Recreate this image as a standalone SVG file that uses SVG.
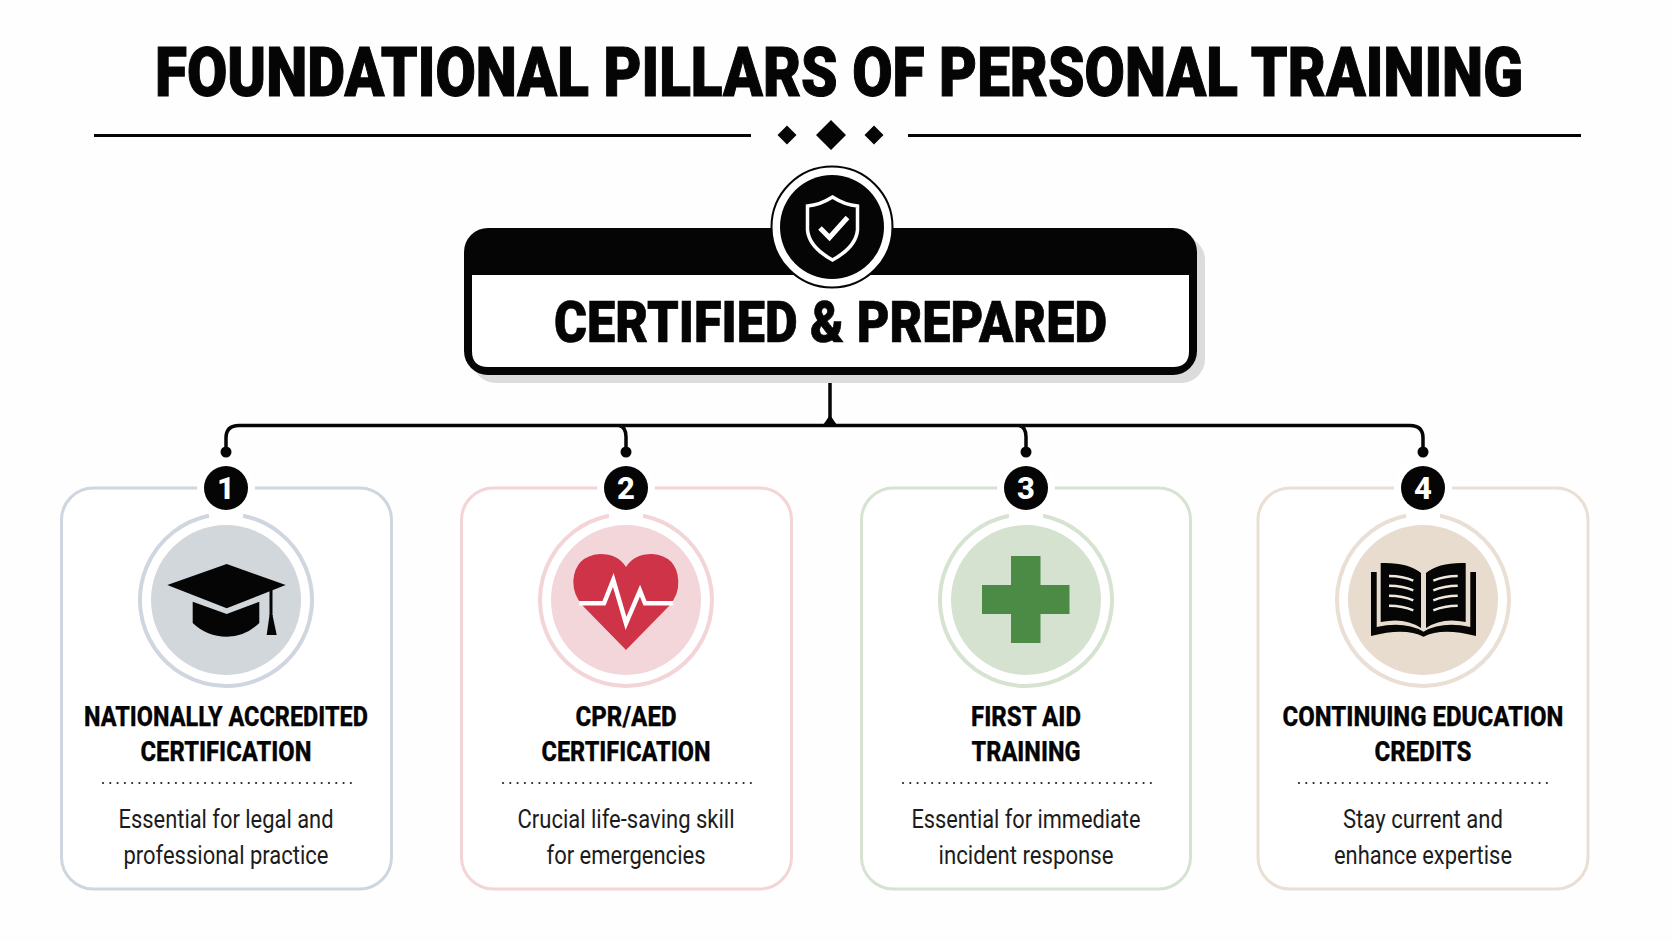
<svg xmlns="http://www.w3.org/2000/svg" width="1672" height="941" viewBox="0 0 1672 941">
<style>
text{font-family:Roboto,"Liberation Sans",sans-serif;text-anchor:middle;fill:#050505}
.title{font-size:55.2px;font-weight:900;stroke:#050505;stroke-width:.9}
.hero{font-size:58px;font-weight:900;stroke:#050505;stroke-width:.7}
.head{font-size:28px;font-weight:800;stroke:#050505;stroke-width:.25}
.desc{font-size:26px;font-weight:400;fill:#1c1c1c}
.num{font-size:31px;font-weight:800;fill:#fff}
.card{fill:#fff;stroke-width:3}
.ring{fill:none;stroke-width:4}
.halo{fill:#fff}
.badge{fill:#050505}
.dots{fill:none;stroke:#222;stroke-width:2.2;stroke-linecap:round;stroke-dasharray:0 7.29}
.conn{fill:none;stroke:#050505;stroke-width:3.5}
</style>
<rect width="1672" height="941" fill="#fefefe"/>
<g id="title">
<text class="title" transform="translate(839 95.500) scale(1 1.25)" x="0" y="0" textLength="1368" lengthAdjust="spacingAndGlyphs">FOUNDATIONAL PILLARS OF PERSONAL TRAINING</text>
<path d="M94 135.500H751M908 135.500H1581" stroke="#050505" stroke-width="3" fill="none"/>
<path d="M787 125.500l9.500 9.500-9.500 9.500-9.500-9.500zM831 120l15 15-15 15-15-15zM874 125.500l9.500 9.500-9.500 9.500-9.500-9.500z" fill="#050505"/>
</g>
<g id="connectors">
<path class="conn" d="M830 375V426M226 452V438Q226 425.500 239 425.500H1410Q1423 425.500 1423 438V452M619 425.500Q626 427 626 437V452M1019 425.500Q1026 427 1026 437V452"/>
<path d="M823 425L830 415L837 425Z" fill="#050505"/>
<g fill="#050505"><circle cx="226" cy="452" r="5.500"/><circle cx="626" cy="452" r="5.500"/><circle cx="1026" cy="452" r="5.500"/><circle cx="1423" cy="452" r="5.500"/></g>
</g>
<g id="root">
<rect x="472" y="236" width="733" height="147" rx="24" fill="#dcdcdc"/>
<rect x="464" y="228" width="733" height="147" rx="24" fill="#050505"/>
<path d="M472 275H1189V351Q1189 367 1173 367H488Q472 367 472 351Z" fill="#fff"/>
<text class="hero" x="830.500" y="342" textLength="553" lengthAdjust="spacingAndGlyphs">CERTIFIED &amp; PREPARED</text>
<circle cx="832" cy="227" r="60.500" fill="#fff" stroke="#050505" stroke-width="2"/>
<circle cx="832" cy="227" r="52" fill="#050505"/>
<path d="M832.500 197Q820 205 807.500 206V230Q809 247 832.500 260Q856 247 857.500 230V206Q845 205 832.500 197Z" fill="none" stroke="#fff" stroke-width="3.500"/>
<path d="M820 228L829.500 237.500L847.500 217.500" fill="none" stroke="#fff" stroke-width="5"/>
</g>
<g id="card1">
<rect class="card" x="61.500" y="488" width="330" height="401" rx="32" stroke="#cfd6df"/>
<path class="ring" d="M243 515.700A86 86 0 1 1 209 515.700" stroke="#cfd6df"/>
<circle cx="226" cy="600" r="75" fill="#d2d7dc"/>
<circle class="halo" cx="226" cy="488" r="29"/><circle class="badge" cx="226" cy="488" r="22"/>
<text class="num" x="226" y="499">1</text>
<path d="M167.300 585L226.700 564L285.700 585L226.700 608.300Z" fill="#050505"/>
<path d="M192.700 601.700L226.700 614L259.300 601.700V623Q245 636.700 226.700 636.700Q207 636.700 192.700 623Z" fill="#050505"/>
<path d="M271 590V616" stroke="#050505" stroke-width="3" fill="none"/>
<path d="M269.500 615H272.500L276.700 635H266.700Z" fill="#050505"/>
<text class="head" x="226" y="726" textLength="284" lengthAdjust="spacingAndGlyphs">NATIONALLY ACCREDITED</text>
<text class="head" x="226" y="761" textLength="171" lengthAdjust="spacingAndGlyphs">CERTIFICATION</text>
<path class="dots" d="M103 783H351.500"/>
<text class="desc" x="226" y="828" textLength="215" lengthAdjust="spacingAndGlyphs">Essential for legal and</text>
<text class="desc" x="226" y="864" textLength="205" lengthAdjust="spacingAndGlyphs">professional practice</text>
</g>
<g id="card2">
<rect class="card" x="461.500" y="488" width="330" height="401" rx="32" stroke="#f3d4d7"/>
<path class="ring" d="M643 515.700A86 86 0 1 1 609 515.700" stroke="#f3d4d7"/>
<circle cx="626" cy="600" r="75" fill="#f2d6d9"/>
<circle class="halo" cx="626" cy="488" r="29"/><circle class="badge" cx="626" cy="488" r="22"/>
<text class="num" x="626" y="499">2</text>
<path d="M626 650L583 606Q573 595 573.300 581Q575 556 600 554Q618 554 626 567Q634 554 652 554Q677 556 678.300 581Q679 595 669 606Z" fill="#cf3347"/>
<path d="M579.300 603.300H604L613.300 580L626 623.300L640 590.700L645 603.300H673.300" fill="none" stroke="#fff" stroke-width="4.500"/>
<text class="head" x="626" y="726" textLength="101" lengthAdjust="spacingAndGlyphs">CPR/AED</text>
<text class="head" x="626" y="761" textLength="169" lengthAdjust="spacingAndGlyphs">CERTIFICATION</text>
<path class="dots" d="M503 783H751.500"/>
<text class="desc" x="626" y="828" textLength="217" lengthAdjust="spacingAndGlyphs">Crucial life-saving skill</text>
<text class="desc" x="626" y="864" textLength="159" lengthAdjust="spacingAndGlyphs">for emergencies</text>
</g>
<g id="card3">
<rect class="card" x="861.500" y="488" width="329" height="401" rx="32" stroke="#d6e3d1"/>
<path class="ring" d="M1043 515.700A86 86 0 1 1 1009 515.700" stroke="#d6e3d1"/>
<circle cx="1026" cy="600" r="75" fill="#d4e2cf"/>
<circle class="halo" cx="1026" cy="488" r="29"/><circle class="badge" cx="1026" cy="488" r="22"/>
<text class="num" x="1026" y="499">3</text>
<path d="M1011 556H1040.500V585H1069.500V614H1040.500V643H1011V614H982V585H1011Z" fill="#4b8b46"/>
<text class="head" x="1026" y="726" textLength="110" lengthAdjust="spacingAndGlyphs">FIRST AID</text>
<text class="head" x="1026" y="761" textLength="109" lengthAdjust="spacingAndGlyphs">TRAINING</text>
<path class="dots" d="M903 783H1151.500"/>
<text class="desc" x="1026" y="828" textLength="229" lengthAdjust="spacingAndGlyphs">Essential for immediate</text>
<text class="desc" x="1026" y="864" textLength="175" lengthAdjust="spacingAndGlyphs">incident response</text>
</g>
<g id="card4">
<rect class="card" x="1258" y="488" width="330" height="401" rx="32" stroke="#e9dfd5"/>
<path class="ring" d="M1440 515.700A86 86 0 1 1 1406 515.700" stroke="#e9dfd5"/>
<circle cx="1423" cy="600" r="75" fill="#e8dccf"/>
<circle class="halo" cx="1423" cy="488" r="29"/><circle class="badge" cx="1423" cy="488" r="22"/>
<text class="num" x="1423" y="499">4</text>
<path d="M1371 572H1376.700V627Q1405 621 1423.500 631.700Q1442 621 1470.300 627V572H1476V636Q1442 627 1423.500 636.700Q1405 627 1371 636Z" fill="#050505"/>
<path d="M1380.700 563Q1408 562 1421 573V628Q1405 617 1380.700 622ZM1465.700 563Q1439 562 1426 573V628Q1442 617 1465.700 622Z" fill="#050505"/>
<path d="M1389 576Q1403 576 1413.300 580.700M1389 585.700Q1403 585.700 1413.300 590.400M1389 595.700Q1403 595.700 1413.300 600.400M1389 605.700Q1403 605.700 1413.300 610.400M1457.700 576Q1444 576 1433.300 580.700M1457.700 585.700Q1444 585.700 1433.300 590.400M1457.700 595.700Q1444 595.700 1433.300 600.400M1457.700 605.700Q1444 605.700 1433.300 610.400" fill="none" stroke="#f0e8df" stroke-width="2.500"/>
<text class="head" x="1423" y="726" textLength="281" lengthAdjust="spacingAndGlyphs">CONTINUING EDUCATION</text>
<text class="head" x="1423" y="761" textLength="97" lengthAdjust="spacingAndGlyphs">CREDITS</text>
<path class="dots" d="M1299 783H1547.500"/>
<text class="desc" x="1423" y="828" textLength="160" lengthAdjust="spacingAndGlyphs">Stay current and</text>
<text class="desc" x="1423" y="864" textLength="178" lengthAdjust="spacingAndGlyphs">enhance expertise</text>
</g>
</svg>
